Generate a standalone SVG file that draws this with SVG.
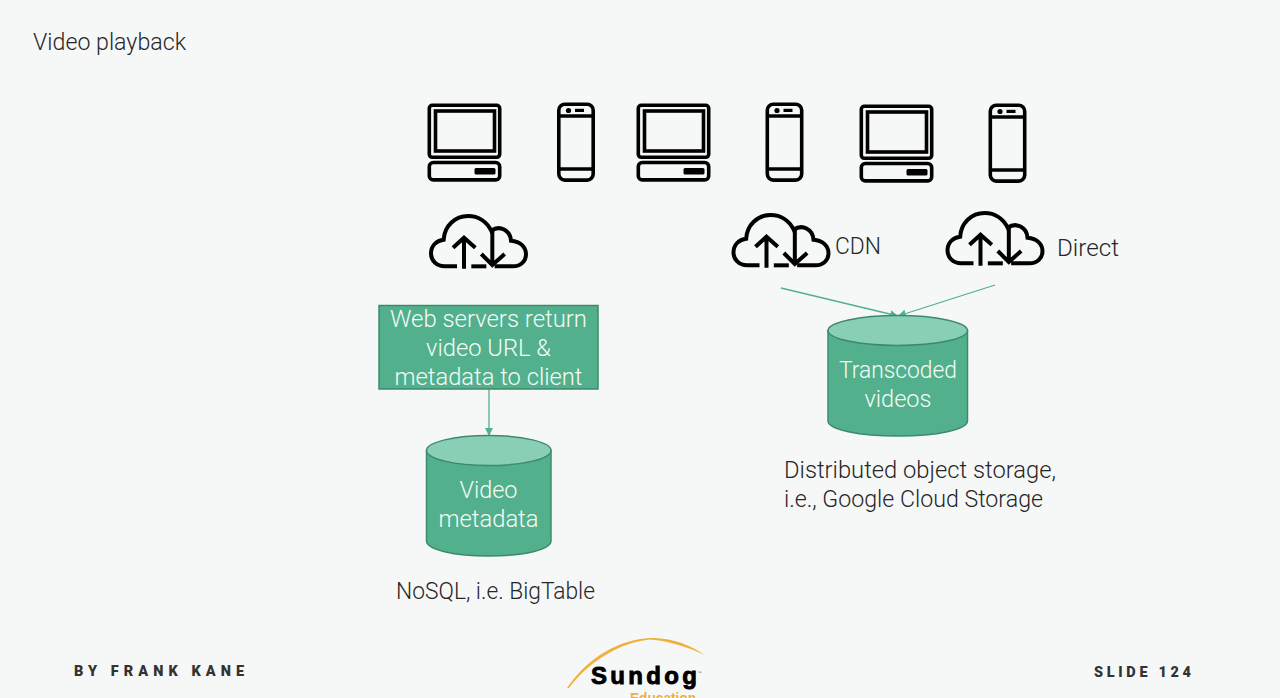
<svg xmlns="http://www.w3.org/2000/svg" width="1280" height="698" viewBox="0 0 1280 698">
<style>
text{font-family:"Roboto","Liberation Sans",sans-serif;font-weight:300;font-size:24.5px;fill:#262626}
.w{fill:#f4fbf8;text-anchor:middle}
.foot{font-weight:900;font-size:14.5px;fill:#333}
.ic{fill:none;stroke:#000;stroke-width:3.6}
.link{fill:none;stroke:#52b08c;stroke-width:1.3;marker-end:url(#arrow)}
.body{fill:#52b08c;stroke:#3c8a6d;stroke-width:1.5}
.top{fill:#88cfb6;stroke:#3c8a6d;stroke-width:1.5}
</style>
<defs>
<marker id="arrow" markerUnits="userSpaceOnUse" markerWidth="9" markerHeight="9" refX="8" refY="4" orient="auto"><path d="M0 0L8 4L0 8z" fill="#52b08c"/></marker>
<g id="laptop">
<rect class="ic" x="1.8" y="1.8" width="70.400" height="52" rx="3"/>
<rect class="ic" x="8" y="7.500" width="59" height="40"/>
<rect class="ic" x="1.8" y="59" width="70.400" height="17.400" rx="4"/>
<rect x="47" y="64.500" width="21" height="6.500" rx="1.500" fill="#000"/>
</g>
<g id="phone">
<rect class="ic" x="1.8" y="1.8" width="34.400" height="75.800" rx="6"/>
<path class="ic" d="M1.800 13.500H36.200M1.800 66.500H36.200"/>
<circle cx="11.500" cy="8" r="2.600" fill="#000"/>
<rect x="18" y="6.300" width="9" height="3.200" fill="#000"/>
</g>
<g id="cloud">
<g transform="scale(.3333) translate(-58 -372)" fill="none" stroke="#000" stroke-width="12">
<path d="M142 529H105C80 529 64 511 64 490C64 468 80 451 102 449C104 408 136 378 175 378C207 378 232 396 245 423C270 403 302 422 304 452C333 454 349 472 349 492C349 514 333 529 310 529H255"/>
<path d="M185 529H230"/>
<path d="M163 536V443M130 473L163 443L197 473"/>
<path d="M248 413V522M215 492L248 525L285 492"/>
</g>
</g>
</defs>
<rect width="1280" height="698" fill="#f6f8f8"/>
<text id="title" x="33" y="50" textLength="153" lengthAdjust="spacingAndGlyphs">Video playback</text>
<g id="client-laptop-1"><use href="#laptop" x="427.500" y="103.500"/></g>
<g id="client-phone-1"><use href="#phone" x="557" y="102.500"/></g>
<g id="client-laptop-2"><use href="#laptop" x="636.500" y="103.500"/></g>
<g id="client-phone-2"><use href="#phone" x="765.500" y="102.500"/></g>
<g id="client-laptop-3"><use href="#laptop" x="859.500" y="104.500"/></g>
<g id="client-phone-3"><use href="#phone" x="988.500" y="103.500"/></g>
<g id="cloud-web"><use href="#cloud" x="429" y="214"/></g>
<g id="cloud-cdn"><use href="#cloud" x="731.500" y="213"/><text x="835" y="254" textLength="46" lengthAdjust="spacingAndGlyphs">CDN</text></g>
<g id="cloud-direct"><use href="#cloud" x="945.500" y="211"/><text x="1057" y="256" textLength="62" lengthAdjust="spacingAndGlyphs">Direct</text></g>
<g id="connectors">
<path class="link" d="M489 389V436"/>
<path class="link" d="M781 288L898 316"/>
<path class="link" d="M995 285L898 316"/>
</g>
<g id="web-servers">
<rect class="body" x="379" y="305.500" width="219" height="83.500"/>
<text class="w" x="488.500" y="327" textLength="197" lengthAdjust="spacingAndGlyphs">Web servers return</text>
<text class="w" x="488.500" y="356" textLength="125" lengthAdjust="spacingAndGlyphs">video URL &amp;</text>
<text class="w" x="488.500" y="385" textLength="188" lengthAdjust="spacingAndGlyphs">metadata to client</text>
</g>
<g id="video-metadata">
<path class="body" d="M426.500 450.500V541C426.500 549.500 454 556 489 556S551 549.500 551 541V450.500z"/>
<ellipse class="top" cx="488.750" cy="450.500" rx="62.250" ry="15"/>
<text class="w" x="488.500" y="498" textLength="58" lengthAdjust="spacingAndGlyphs">Video</text>
<text class="w" x="488.500" y="527" textLength="100" lengthAdjust="spacingAndGlyphs">metadata</text>
</g>
<text id="nosql-label" x="396" y="599" textLength="199" lengthAdjust="spacingAndGlyphs">NoSQL, i.e. BigTable</text>
<g id="transcoded-videos">
<path class="body" d="M828 330.500V421C828 429.500 859 436 898 436S967.500 429.500 967.500 421V330.500z"/>
<ellipse class="top" cx="897.750" cy="330.500" rx="69.750" ry="15"/>
<text class="w" x="898" y="378" textLength="118" lengthAdjust="spacingAndGlyphs">Transcoded</text>
<text class="w" x="898" y="407" textLength="67" lengthAdjust="spacingAndGlyphs">videos</text>
</g>
<text id="storage-label-1" x="784" y="478" textLength="272" lengthAdjust="spacingAndGlyphs">Distributed object storage,</text>
<text id="storage-label-2" x="784" y="507" textLength="259" lengthAdjust="spacingAndGlyphs">i.e., Google Cloud Storage</text>
<text class="foot" x="74" y="676" textLength="170">BY FRANK KANE</text>
<text class="foot" x="1094" y="677" textLength="97">SLIDE 124</text>
<g id="logo">
<path d="M567 688C590 655 620 640 650 638C672 637 692 646 705 655C690 648 670 641 650 639.500C622 642 590 660 569 688z" fill="#f0b040"/>
<text x="591" y="684" textLength="106" style="font-family:'Liberation Sans',sans-serif;font-weight:700;font-size:24px;fill:#000;stroke:#000;stroke-width:.9">Sundog</text>
<text x="697.500" y="674" style="font-family:'Liberation Sans',sans-serif;font-size:4px;fill:#555;font-weight:400">™</text>
<text x="630" y="703" textLength="66" lengthAdjust="spacingAndGlyphs" style="font-family:'Liberation Sans',sans-serif;font-weight:700;font-size:14px;fill:#f0b040">Education</text>
</g>
</svg>
